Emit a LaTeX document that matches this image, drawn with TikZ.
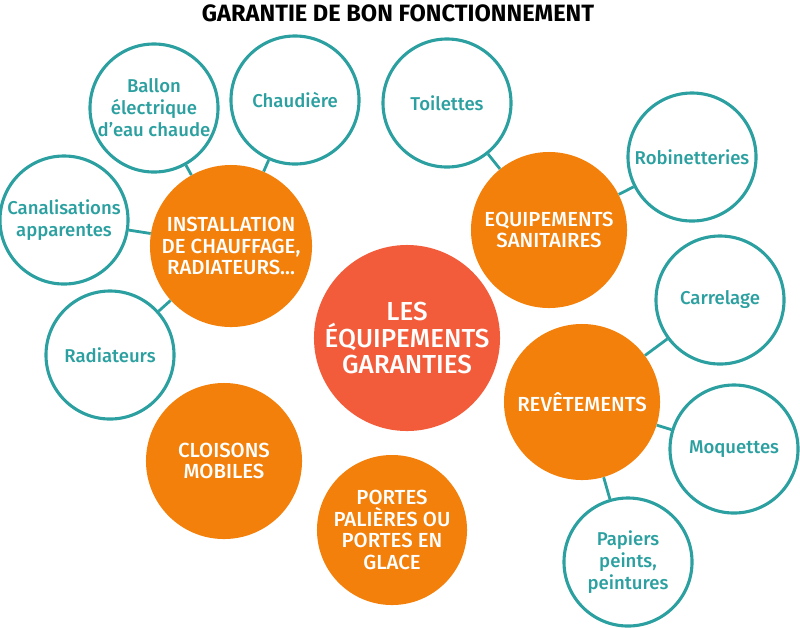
\documentclass[tikz,border=0pt]{standalone}
\usepackage{fontspec}
\setmainfont{Fira Sans}[UprightFont=* Medium, BoldFont=* Bold]
\definecolor{teal}{RGB}{44, 160, 160}
\definecolor{orangeb}{RGB}{243, 128, 10}
\definecolor{coral}{RGB}{242, 92, 58}
\usetikzlibrary{positioning}

\begin{document}
\begin{tikzpicture}[x=0.025cm, y=-0.025cm,
    item/.style={circle, draw=teal, line width=2.2pt, fill=white, text=teal, minimum size=3.2cm, inner sep=0pt, align=center, font=\fontsize{13.2}{15.6}\selectfont},
    topic/.style={circle, fill=orangeb, text=white, minimum size=3.9cm, inner sep=0pt, align=center, font=\fontsize{14.5}{15.4}\selectfont},
    hub/.style={circle, fill=coral, text=white, minimum size=4.65cm, inner sep=0pt, align=center, font=\fontsize{18.5}{18.6}\selectfont},
    link/.style={draw=teal, line width=2pt}]
    \useasboundingbox (0,0) rectangle (800,627);

    % Title
    \node[font=\bfseries\fontsize{16.8}{18}\selectfont] (title) at (398,13) {GARANTIE DE BON FONCTIONNEMENT};

    % Centre
    \node[hub] (hub) at (407,338) {LES\\ÉQUIPEMENTS\\GARANTIES};

    % Topics
    \node[topic, minimum size=4.05cm] (chauffage) at (231,246) {INSTALLATION\\DE CHAUFFAGE,\\RADIATEURS...};
    \node[topic] (sanitaires) at (549,230) {EQUIPEMENTS\\SANITAIRES};
    \node[topic] (revetements) at (582,402) {REVÊTEMENTS};
    \node[topic] (cloisons) at (224,461) {CLOISONS\\MOBILES};
    \node[topic, minimum size=3.75cm] (portes) at (392,530) {PORTES\\PALIÈRES OU\\PORTES EN\\GLACE};

    % Items
    \node[item] (ballon) at (154,108) {Ballon\\électrique\\d’eau chaude};
    \node[item] (chaudiere) at (295,100) {Chaudière};
    \node[item] (canalisations) at (64,220) {Canalisations\\apparentes};
    \node[item] (radiateurs) at (110,355) {Radiateurs};
    \node[item] (toilettes) at (447,103) {Toilettes};
    \node[item] (robinetteries) at (692,157) {Robinetteries};
    \node[item] (carrelage) at (720,300) {Carrelage};
    \node[item] (moquettes) at (734,449) {Moquettes};
    \node[item] (papiers) at (628,562) {Papiers\\peints,\\peintures};

    % Links
    \draw[link] (chauffage) -- (ballon);
    \draw[link] (chauffage) -- (chaudiere);
    \draw[link] (chauffage) -- (canalisations);
    \draw[link] (chauffage) -- (radiateurs);
    \draw[link] (sanitaires) -- (toilettes);
    \draw[link] (sanitaires) -- (robinetteries);
    \draw[link] (revetements) -- (carrelage);
    \draw[link] (revetements) -- (moquettes);
    \draw[link] (revetements) -- (papiers);
\end{tikzpicture}
\end{document}
